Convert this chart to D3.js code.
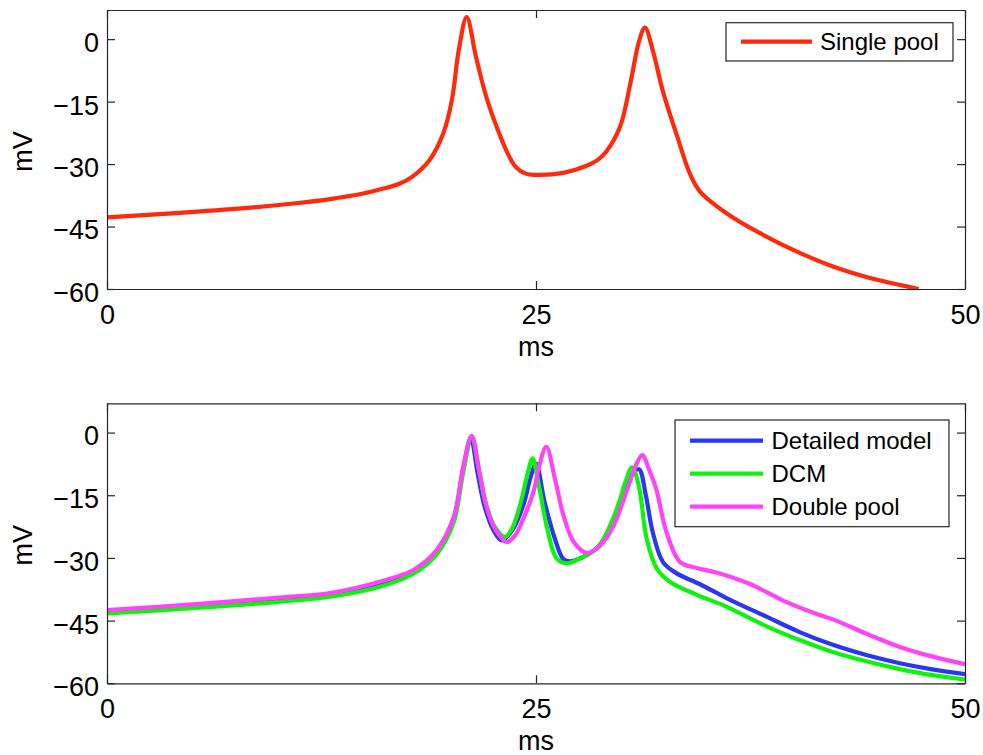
<!DOCTYPE html>
<html>
<head>
<meta charset="utf-8">
<script src="https://cdnjs.cloudflare.com/ajax/libs/d3/7.8.5/d3.min.js"></script>
<style>
body { margin: 0; background: #fff; }
svg text { font-family: "Liberation Sans", Arial, sans-serif; fill: #000; }
</style>
</head>
<body>
<div id="main"></div>
<script>
var msTicks = [0, 25, 50];
var mvTicks = [0, -15, -30, -45, -60];

// top panel: single pool
var singleT = [0, 4, 8, 11, 13, 15, 16, 17, 17.8, 18.8, 19.6, 20.1, 20.5, 20.96, 21.5, 22.1, 22.7, 23.3, 23.8, 24.4, 25.0, 26.6, 27.95, 28.6, 29.1, 29.9, 30.5, 31.0, 31.35, 31.8, 32.4, 33.2, 34.0, 34.56, 36.1, 38.05, 40.4, 42.3, 44.3, 47.3];
var singleV = [-42.8, -41.8, -40.6, -39.4, -38.4, -37.0, -36.0, -34.8, -33.0, -29.0, -22.6, -14.6, -2.6, 5.3, -4.2, -13.8, -21.0, -27.0, -30.6, -32.3, -32.6, -32.1, -30.4, -29.0, -27.0, -21.0, -10.6, -0.6, 2.8, -2.6, -12.6, -23.0, -32.6, -36.6, -41.8, -46.6, -51.4, -54.6, -57.2, -60];

// bottom panel
var detailedT = [0, 5, 10, 13, 15.9, 17.85, 19.2, 20.2, 20.76, 21.2, 21.6, 22.0, 22.5, 23.0, 23.6, 24.26, 24.7, 25.0, 25.5, 26.1, 26.6, 27.0, 28.0, 28.7, 29.5, 30.1, 30.6, 31.0, 31.4, 31.8, 32.4, 33.2, 34.56, 36.1, 38.4, 40.4, 42.3, 44.3, 46.2, 48, 50];
var detailedV = [-42.7, -41.4, -39.8, -38.7, -36.0, -33.2, -28.6, -20.6, -8.6, -1.4, -9.8, -17.6, -23.2, -25.8, -23.5, -17.4, -10.5, -7.4, -16.6, -25.4, -30.3, -30.8, -29.2, -27.0, -21.0, -15.0, -10.0, -8.8, -15.0, -23.8, -31.0, -33.7, -36.3, -39.6, -44.0, -47.8, -50.8, -53.3, -55.2, -56.6, -57.8];
var dcmT = [0, 5, 10, 13, 15.9, 17.85, 19.2, 20.2, 20.76, 21.25, 21.7, 22.1, 22.6, 23.2, 23.6, 24.07, 24.5, 24.8, 25.2, 25.7, 26.2, 26.8, 27.5, 28.1, 28.7, 29.5, 29.9, 30.2, 30.6, 31.0, 31.45, 32.03, 32.8, 34.4, 35.9, 38.4, 40.4, 42.3, 44.3, 46.2, 48, 50];
var dcmV = [-43.3, -42.0, -40.5, -39.3, -36.9, -33.8, -29.2, -21.5, -9.5, -1.2, -9.6, -17.4, -22.6, -25.0, -23.0, -17.4, -10.0, -6.2, -13.4, -23.8, -30.1, -31.3, -30.2, -29.0, -27.0, -20.5, -16.0, -12.0, -8.3, -13.0, -25.4, -32.5, -35.7, -38.9, -41.3, -46.3, -49.7, -52.5, -54.8, -56.6, -58.0, -59.1];
var doubleT = [0, 5, 10, 13, 15.9, 17.85, 19.2, 20.2, 20.76, 21.25, 21.7, 22.1, 22.6, 23.3, 23.8, 24.26, 24.85, 25.2, 25.6, 26.1, 26.6, 27.2, 27.95, 28.7, 29.5, 30.3, 30.87, 31.2, 31.6, 32.0, 32.6, 33.4, 34.36, 35.5, 37.5, 39.4, 41.4, 42.3, 44.3, 46.2, 48, 50];
var doubleV = [-42.5, -41.1, -39.5, -38.4, -35.7, -32.9, -28.2, -20.2, -8.2, -0.8, -9.4, -17.4, -23.0, -26.2, -24.5, -20.6, -14.2, -7.8, -3.4, -11.0, -19.8, -26.2, -28.8, -27.2, -22.5, -13.8, -7.4, -5.4, -9.0, -13.4, -23.8, -31.0, -32.4, -33.5, -36.3, -40.2, -43.5, -44.7, -48.2, -51.3, -53.5, -55.4];

var topSeries = [
  {name: "Single pool", t: singleT, v: singleV, color: "#ff2a0c"}
];
var bottomSeries = [
  {name: "Detailed model", t: detailedT, v: detailedV, color: "#2a36f2"},
  {name: "DCM", t: dcmT, v: dcmV, color: "#0ef20e"},
  {name: "Double pool", t: doubleT, v: doubleV, color: "#ff44f8"}
];

var svg = d3.select("#main").append("svg")
  .attr("width", 983)
  .attr("height", 755);//create canvas

var x = d3.scaleLinear().domain([0, 50]).range([107, 965]);

function panel(id, top, bottom, series, box) {
  var y = d3.scaleLinear().domain([-60, 7]).range([bottom, top]);
  var g = svg.append("g");
  g.append("clipPath").attr("id", id)
    .append("rect")
    .attr("x", x(0)).attr("y", top)
    .attr("width", x(50) - x(0)).attr("height", bottom - top);

  var line = d3.line()
    .x(function(d) { return x(d[0]); })
    .y(function(d) { return y(d[1]); })
    .curve(d3.curveCatmullRom.alpha(0.5));
  g.append("g").attr("clip-path", "url(#" + id + ")")
    .selectAll("path").data(series).enter().append("path")
    .attr("d", function(s) { return line(s.t.map(function(t, i) { return [t, s.v[i]]; })); })
    .attr("fill", "none")
    .attr("stroke", function(s) { return s.color; })
    .attr("stroke-width", 4.2)
    .attr("stroke-linejoin", "round");//draw lines

  // axes, ticks pointing inward on all four sides
  var left = g.append("g").attr("transform", "translate(" + x(0) + ",0)")
    .call(d3.axisLeft(y).tickValues(mvTicks).tickSize(-8).tickSizeOuter(0).tickPadding(8).tickFormat(d3.format("d")));
  left.selectAll("text").attr("dy", "0.46em");
  g.append("g").attr("transform", "translate(" + x(50) + ",0)")
    .call(d3.axisRight(y).tickValues(mvTicks).tickSize(-8).tickSizeOuter(0).tickFormat(""));
  g.append("g").attr("transform", "translate(0," + bottom + ")")
    .call(d3.axisBottom(x).tickValues(msTicks).tickSize(-8).tickSizeOuter(0).tickPadding(16));
  g.append("g").attr("transform", "translate(0," + top + ")")
    .call(d3.axisTop(x).tickValues(msTicks).tickSize(-8).tickSizeOuter(0).tickFormat(""));
  g.selectAll(".tick text").attr("font-size", 27).attr("font-family", "Liberation Sans, Arial, sans-serif");
  g.selectAll(".domain, .tick line").attr("stroke", "#262626").attr("stroke-width", 1.2);

  g.append("text")
    .attr("x", x(25))
    .attr("y", bottom + 67)
    .attr("text-anchor", "middle")
    .attr("font-size", 27)
    .text("ms");//label x-axis
  g.append("text")
    .attr("transform", "translate(32," + ((top + bottom) / 2 + 2) + ") rotate(-90)")
    .attr("text-anchor", "middle")
    .attr("font-size", 27)
    .text("mV");//label y-axis

  // legend
  g.append("rect")
    .attr("x", box.x).attr("y", box.y)
    .attr("width", box.w).attr("height", box.h)
    .attr("fill", "#fff")
    .attr("stroke", "#262626")
    .attr("stroke-width", 1.2);
  var rows = g.selectAll(".legend").data(series).enter().append("g")
    .attr("class", "legend")
    .attr("transform", function(d, i) { return "translate(" + box.x + "," + (box.y + box.first + i * box.step) + ")"; });
  rows.append("line")
    .attr("x1", box.lx1).attr("x2", box.lx2)
    .attr("stroke", function(d) { return d.color; })
    .attr("stroke-width", 4.2);
  rows.append("text")
    .attr("x", box.tx)
    .attr("dy", "0.35em")
    .attr("font-size", 24)
    .text(function(d) { return d.name; });
}

panel("clipTop", 10, 289, topSeries, {x: 726, y: 22.7, w: 227, h: 38.3, first: 19, step: 0, lx1: 15, lx2: 86, tx: 94});
panel("clipBottom", 403.3, 683.3, bottomSeries, {x: 675, y: 420, w: 274, h: 106.7, first: 20.7, step: 33, lx1: 15, lx2: 88, tx: 96.5});
</script>
</body>
</html>
